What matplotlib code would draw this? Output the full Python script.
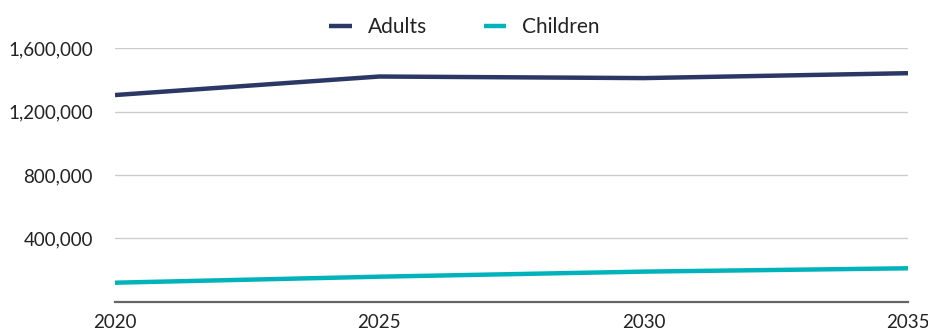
import matplotlib
matplotlib.use("Agg")
import matplotlib.pyplot as plt
from matplotlib.ticker import FuncFormatter

years = [2020, 2025, 2030, 2035]
adults = [1305000, 1422000, 1412000, 1443000]
children = [120000, 158000, 190000, 211000]
y_ticks = [400000, 800000, 1200000, 1600000]

plt.rcParams['font.family'] = ['Lato', 'DejaVu Sans']

fig = plt.figure(figsize=(9.29, 3.31), dpi=100)
ax = fig.add_axes([0.1238, 0.0885, 0.9774 - 0.1238, 0.854 - 0.0885])

ax.plot(years, adults, color='#2B3866', lw=3.2, label='Adults', solid_capstyle='butt')
ax.plot(years, children, color='#00B3BA', lw=3.2, label='Children', solid_capstyle='butt')

ax.set_xlim(2020, 2035)
ax.set_ylim(0, 1600000)
ax.set_xticks(years)
ax.set_yticks(y_ticks)
ax.yaxis.set_major_formatter(FuncFormatter(lambda v, p: f"{int(v):,}"))
ax.grid(axis='y', color='#CCCCCC', lw=1)
ax.set_axisbelow(True)
for s in ['top', 'right', 'left']:
    ax.spines[s].set_visible(False)
ax.spines['bottom'].set_color('#666666')
ax.spines['bottom'].set_linewidth(1.6)
ax.tick_params(axis='both', length=0, labelsize=13.5, colors='#222222')
ax.tick_params(axis='y', pad=16)
ax.tick_params(axis='x', pad=9)

leg = fig.legend(loc='center', bbox_to_anchor=(0.50, 0.918), ncol=2, frameon=False,
                 fontsize=15, handlelength=1.1, columnspacing=2.7, handletextpad=0.75)
for t in leg.get_texts():
    t.set_color('#222222')

fig.savefig('out.png', dpi=100)
